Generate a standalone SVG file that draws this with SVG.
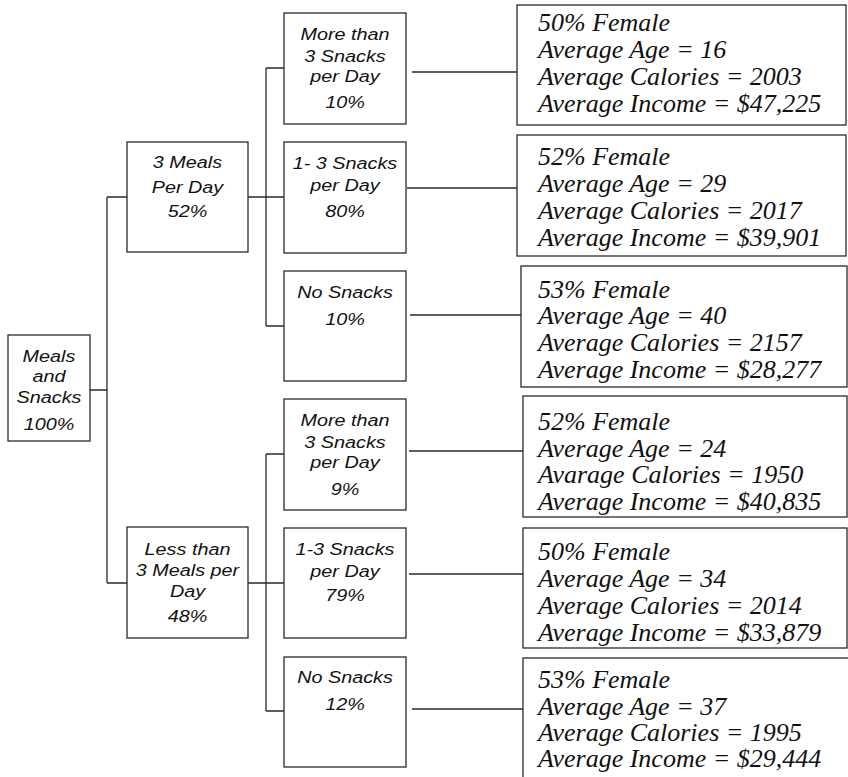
<svg xmlns="http://www.w3.org/2000/svg" width="848" height="777" viewBox="0 0 848 777">
<style>
.box{fill:#fff;stroke:#2a2a2a;stroke-width:1.3}
.ln{stroke:#2a2a2a;stroke-width:1.3;fill:none}
.s{font-family:"Liberation Sans",Arial,sans-serif;font-style:italic;font-size:16.5px;fill:#111;text-anchor:middle}
.r{font-family:"Liberation Serif","Times New Roman",serif;font-style:italic;font-size:26px;fill:#111}
</style>
<rect width="848" height="777" fill="#fff"/>
<g id="connectors">
<path class="ln" d="M90 390H107M107 197V583M107 197H127M107 583H127"/>
<path class="ln" d="M248 197H284M266 68V326M266 68H284M266 326H284"/>
<path class="ln" d="M412 72H517M407 188H517M410 315H521"/>
<path class="ln" d="M248 583H284M266 454V711M266 454H284M266 711H284"/>
<path class="ln" d="M409 451H523M409 574H523M412 709H523"/>
</g>
<g id="root">
<rect class="box" x="8" y="335" width="82" height="106"/>
<g transform="translate(49,0) scale(1.2,1)"><text class="s" x="0" y="362">Meals</text><text class="s" x="0" y="382">and</text><text class="s" x="0" y="403">Snacks</text><text class="s" x="0" y="430">100%</text></g>
</g>
<g id="meals3">
<rect class="box" x="127" y="142" width="121" height="110"/>
<g transform="translate(187.5,0) scale(1.2,1)"><text class="s" x="0" y="168">3 Meals</text><text class="s" x="0" y="193">Per Day</text><text class="s" x="0" y="217">52%</text></g>
</g>
<g id="mealsLess">
<rect class="box" x="127" y="527" width="121" height="111"/>
<g transform="translate(187.5,0) scale(1.2,1)"><text class="s" x="0" y="555">Less than</text><text class="s" x="0" y="576">3 Meals per</text><text class="s" x="0" y="597">Day</text><text class="s" x="0" y="622">48%</text></g>
</g>
<g id="snack1">
<rect class="box" x="284" y="13" width="122" height="111"/>
<g transform="translate(345,0) scale(1.2,1)"><text class="s" x="0" y="40">More than</text><text class="s" x="0" y="62">3 Snacks</text><text class="s" x="0" y="82">per Day</text><text class="s" x="0" y="108">10%</text></g>
</g>
<g id="snack2">
<rect class="box" x="284" y="142" width="122" height="111"/>
<g transform="translate(345,0) scale(1.2,1)"><text class="s" x="0" y="169">1- 3 Snacks</text><text class="s" x="0" y="191">per Day</text><text class="s" x="0" y="217">80%</text></g>
</g>
<g id="snack3">
<rect class="box" x="284" y="271" width="122" height="110"/>
<g transform="translate(345,0) scale(1.2,1)"><text class="s" x="0" y="298">No Snacks</text><text class="s" x="0" y="325">10%</text></g>
</g>
<g id="snack4">
<rect class="box" x="284" y="399" width="122" height="111"/>
<g transform="translate(345,0) scale(1.2,1)"><text class="s" x="0" y="426">More than</text><text class="s" x="0" y="448">3 Snacks</text><text class="s" x="0" y="468">per Day</text><text class="s" x="0" y="495">9%</text></g>
</g>
<g id="snack5">
<rect class="box" x="284" y="528" width="122" height="110"/>
<g transform="translate(345,0) scale(1.2,1)"><text class="s" x="0" y="555">1-3 Snacks</text><text class="s" x="0" y="577">per Day</text><text class="s" x="0" y="601">79%</text></g>
</g>
<g id="snack6">
<rect class="box" x="284" y="657" width="122" height="110"/>
<g transform="translate(345,0) scale(1.2,1)"><text class="s" x="0" y="683">No Snacks</text><text class="s" x="0" y="710">12%</text></g>
</g>
<g id="result1">
<rect class="box" x="517" y="5" width="329" height="120"/>
<text class="r" x="538" y="31">50% Female</text><text class="r" x="538" y="58">Average Age = 16</text><text class="r" x="538" y="85">Average Calories = 2003</text><text class="r" x="538" y="112">Average Income = $47,225</text>
</g>
<g id="result2">
<rect class="box" x="517" y="135" width="329" height="121"/>
<text class="r" x="538" y="165">52% Female</text><text class="r" x="538" y="192">Average Age = 29</text><text class="r" x="538" y="219">Average Calories = 2017</text><text class="r" x="538" y="246">Average Income = $39,901</text>
</g>
<g id="result3">
<rect class="box" x="521" y="266" width="326" height="121"/>
<text class="r" x="538" y="298">53% Female</text><text class="r" x="538" y="324">Average Age = 40</text><text class="r" x="538" y="351">Average Calories = 2157</text><text class="r" x="538" y="378">Average Income = $28,277</text>
</g>
<g id="result4">
<rect class="box" x="523" y="396" width="324" height="121"/>
<text class="r" x="538" y="430">52% Female</text><text class="r" x="538" y="457">Average Age = 24</text><text class="r" x="538" y="483">Avarage Calories = 1950</text><text class="r" x="538" y="510">Average Income = $40,835</text>
</g>
<g id="result5">
<rect class="box" x="523" y="528" width="324" height="120"/>
<text class="r" x="538" y="560">50% Female</text><text class="r" x="538" y="587">Average Age = 34</text><text class="r" x="538" y="614">Average Calories = 2014</text><text class="r" x="538" y="641">Average Income = $33,879</text>
</g>
<g id="result6">
<rect class="box" x="523" y="658" width="330" height="140"/>
<text class="r" x="538" y="688">53% Female</text><text class="r" x="538" y="715">Average Age = 37</text><text class="r" x="538" y="741">Average Calories = 1995</text><text class="r" x="538" y="767">Average Income = $29,444</text>
</g>
</svg>
